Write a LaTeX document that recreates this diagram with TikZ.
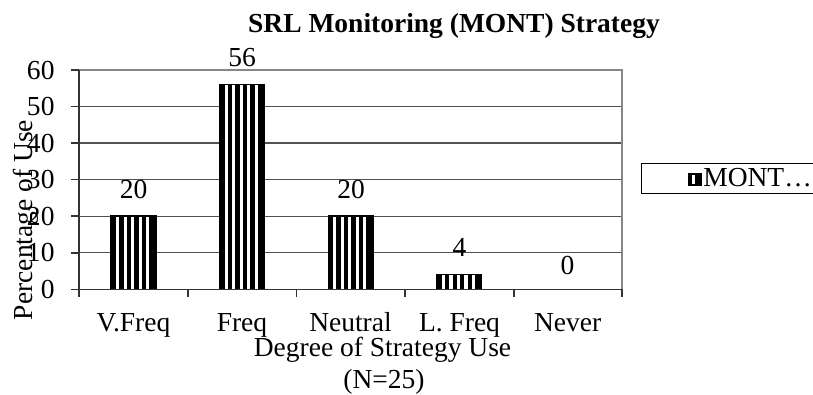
\documentclass[tikz,border=0pt]{standalone}
\usepackage{fontspec}
\setmainfont{Liberation Serif}
\begin{document}
\begin{tikzpicture}[x=1pt,y=-1pt,
  every node/.style={inner sep=0pt,outer sep=0pt,font=\fontsize{27.5}{33}\selectfont},
  gridline/.style={draw=black!68,line width=1.2pt},
  frameline/.style={draw=black!47,line width=2pt},
  axisline/.style={draw=black!80,line width=1.5pt},
  barborder/.style={draw=black,line width=1.5pt},
  ticklabel/.style={anchor=east},
  catlabel/.style={anchor=base},
  vallabel/.style={anchor=base},
  titletext/.style={anchor=base,font=\fontsize{27.5}{33}\selectfont\bfseries}
]
\useasboundingbox (0,0) rectangle (813,395);
\fill[white] (0,0) rectangle (813,395);

% value -> y position
\def\ypos#1{289.3-#1*3.655}

% horizontal gridlines
\foreach \v in {10,20,30,40,50}
  \draw[gridline] (79,{\ypos{\v}}) -- (622,{\ypos{\v}});
% top and right frame
\draw[frameline] (79,70) -- (622,70) -- (622,289.3);

% striped bars: black body with white vertical stripes
\foreach \xa/\v in {111.2/20, 219.8/56, 328.4/20, 437/4} {
  \pgfmathsetmacro\yt{\ypos{\v}}
  \fill[black] (\xa,289.3) rectangle (\xa+44.6,\yt);
  \foreach \k in {0,...,4}
    \fill[white] (\xa+4.8+\k*7.5,288.5) rectangle (\xa+4.8+\k*7.5+3.2,\yt+0.8);
  \draw[barborder] (\xa,289.3) rectangle (\xa+44.6,\yt);
}

% axes with ticks
\draw[axisline] (79,70) -- (79,297);
\draw[axisline] (71,289.3) -- (622,289.3);
\foreach \v in {0,10,...,60}
  \draw[axisline] (71,{\ypos{\v}}) -- (79,{\ypos{\v}});
\foreach \x in {188,296.6,405.2,513.8,622}
  \draw[axisline] (\x,289.3) -- (\x,297);

% value axis labels
\foreach \v in {0,10,...,60}
  \node[ticklabel] (t\v) at (54.5,{\ypos{\v}}) {\v};

% category labels
\node[catlabel] (c1) at (133.5,331) {V.Freq};
\node[catlabel] (c2) at (242,331) {Freq};
\node[catlabel] (c3) at (350.5,331) {Neutral};
\node[catlabel] (c4) at (459.5,331) {L. Freq};
\node[catlabel] (c5) at (567.7,331) {Never};

% data labels
\node[vallabel] (d1) at (133.5,199) {20};
\node[vallabel] (d2) at (242,66.7) {56};
\node[vallabel] (d3) at (351,199) {20};
\node[vallabel] (d4) at (459.5,256.7) {4};
\node[vallabel] (d5) at (567.5,274) {0};

% titles
\node[titletext] (title) at (454,33) {SRL Monitoring (MONT) Strategy};
\node[anchor=base] (xt1) at (382.5,356.7) {Degree of Strategy Use};
\node[anchor=base] (xt2) at (384,388.5) {(N=25)};
\node[anchor=base,rotate=90] (yt) at (32.5,220) {Percentage of Use};

% legend
\draw[black,line width=1pt] (641.7,164) rectangle (816,194);
\fill[black] (688.3,173.3) rectangle (701.7,186.3);
\fill[white] (691.7,175.5) rectangle (694.7,184);
\node[anchor=base west] (leg) at (703.3,186.7) {MONT…};
\end{tikzpicture}
\end{document}
